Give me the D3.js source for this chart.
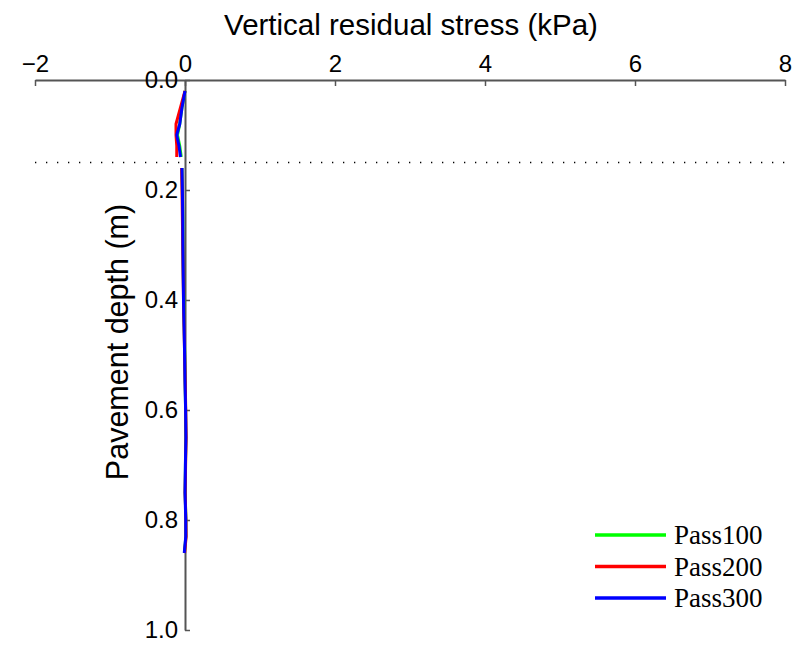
<!DOCTYPE html>
<html>
<head>
<meta charset="utf-8">
<script src="https://cdn.jsdelivr.net/npm/d3@7"></script>
<style>
  html, body { margin: 0; padding: 0; background: #fff; }
  svg { display: block; }
</style>
</head>
<body>
<div id="chart"></div>
<script>
// ---- data ----
const xTicks = [-2, 0, 2, 4, 6, 8];
const yTicks = [0.0, 0.2, 0.4, 0.6, 0.8, 1.0];
const seriesNames = ["Pass100", "Pass200", "Pass300"];
const seriesColors = ["#00ff00", "#ff0000", "#0000ff"];
const interfaceDepth = 0.15;
// depth (m); null value = gap at the layer interface
const depths = [0.02, 0.05, 0.08, 0.10, 0.12, 0.14, 0.15, 0.16, 0.20, 0.25, 0.30, 0.35, 0.40, 0.45, 0.50, 0.55, 0.60, 0.65, 0.70, 0.75, 0.80, 0.83, 0.86];
const pass100 = [0.0, -0.04, -0.07, -0.10, -0.07, -0.05, null, -0.04, -0.035, -0.03, -0.027, -0.023, -0.018, -0.01, -0.004, 0.002, 0.008, 0.012, 0.006, 0.002, 0.012, 0.012, -0.008];
const pass200 = [0.0, -0.06, -0.12, -0.12, -0.11, -0.11, null, -0.045, -0.04, -0.035, -0.03, -0.025, -0.02, -0.012, -0.005, 0.003, 0.01, 0.015, 0.008, 0.002, 0.012, 0.015, -0.005];
const pass300 = [0.0, -0.04, -0.07, -0.11, -0.08, -0.06, null, -0.04, -0.035, -0.03, -0.028, -0.024, -0.02, -0.012, -0.005, 0.0, 0.008, 0.012, 0.005, 0.0, 0.01, 0.01, -0.01];
const seriesValues = [pass100, pass200, pass300];

// ---- chart ----
const W = 795, H = 646;
const svg = d3.select("#chart").append("svg").attr("width", W).attr("height", H);

const x = d3.scaleLinear().domain([-2, 8]).range([35, 785]);
const y = d3.scaleLinear().domain([0, 1]).range([80, 630]);

const axisColor = "#555";
const sans = "Liberation Sans, Arial, sans-serif";

// top x axis
const gx = svg.append("g").attr("transform", `translate(0,${y(0)})`)
  .call(d3.axisTop(x).tickValues(xTicks).tickSizeInner(-6).tickSizeOuter(0).tickPadding(8).tickFormat(d3.format("d")));
gx.select(".domain").attr("stroke", axisColor).attr("stroke-width", 2);
gx.selectAll(".tick line").attr("stroke", axisColor).attr("stroke-width", 1.5);
gx.selectAll(".tick text").attr("fill", "#000").style("font-family", sans).style("font-size", "24px");

// left y axis at x = 0
const gy = svg.append("g").attr("transform", `translate(${x(0)},0)`)
  .call(d3.axisLeft(y).tickValues(yTicks).tickSizeInner(-5).tickSizeOuter(0).tickPadding(7).tickFormat(d3.format(".1f")));
gy.select(".domain").attr("stroke", axisColor).attr("stroke-width", 2);
gy.selectAll(".tick line").attr("stroke", axisColor).attr("stroke-width", 1.5);
gy.selectAll(".tick text").attr("fill", "#000").style("font-family", sans).style("font-size", "24px");

// layer interface dotted line
svg.append("line")
  .attr("x1", x(-2)).attr("x2", x(8))
  .attr("y1", y(interfaceDepth)).attr("y2", y(interfaceDepth))
  .attr("stroke", "#000").attr("stroke-width", 1.3)
  .attr("stroke-dasharray", "1.3,9.7");

// series lines
const line = d3.line()
  .defined(d => d.v !== null)
  .x(d => x(d.v))
  .y(d => y(d.d));

seriesValues.forEach((vals, i) => {
  const pts = depths.map((d, j) => ({ d: d, v: vals[j] }));
  svg.append("path")
    .datum(pts)
    .attr("fill", "none")
    .attr("stroke", seriesColors[i])
    .attr("stroke-width", 3)
    .attr("stroke-linejoin", "round")
    .attr("d", line);
});

// axis titles
svg.append("text")
  .attr("x", 411).attr("y", 35)
  .attr("text-anchor", "middle")
  .style("font-family", sans)
  .style("font-size", "29.5px")
  .text("Vertical residual stress (kPa)");

svg.append("text")
  .attr("transform", `translate(128,342) rotate(-90)`)
  .attr("text-anchor", "middle")
  .style("font-family", sans)
  .style("font-size", "30.5px")
  .text("Pavement depth (m)");

// legend
const legend = svg.append("g");
seriesNames.forEach((name, i) => {
  const ly = 535 + i * 31.5;
  legend.append("line")
    .attr("x1", 595).attr("x2", 666)
    .attr("y1", ly).attr("y2", ly)
    .attr("stroke", seriesColors[i]).attr("stroke-width", 3.5);
  legend.append("text")
    .attr("x", 674).attr("y", ly + 9)
    .style("font-family", "Liberation Serif, Times New Roman, serif")
    .style("font-size", "27px")
    .text(name);
});
</script>
</body>
</html>
